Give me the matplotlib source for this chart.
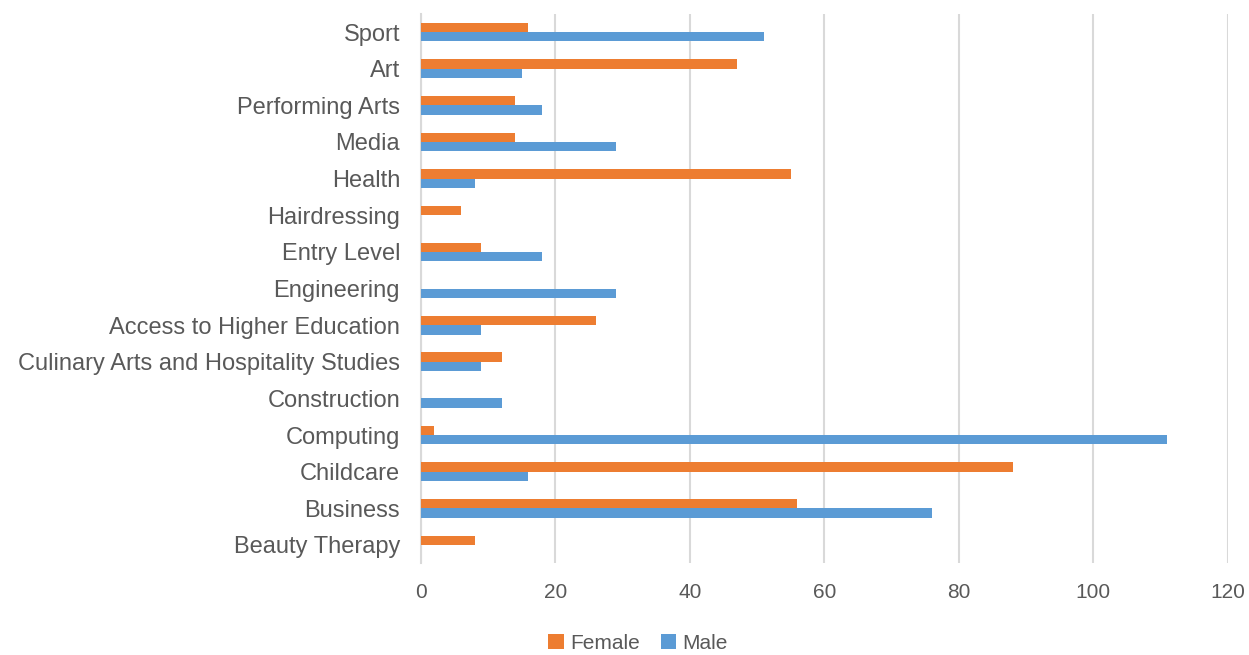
import numpy as np
import matplotlib
matplotlib.use("Agg")
import matplotlib.pyplot as plt

# categories listed bottom to top, as drawn on the chart
categories = [
    "Beauty Therapy", "Business", "Childcare", "Computing", "Construction",
    "Culinary Arts and Hospitality Studies", "Access to Higher Education",
    "Engineering", "Entry Level", "Hairdressing", "Health", "Media",
    "Performing Arts", "Art", "Sport",
]
female = [8, 56, 88, 2, 0, 12, 26, 0, 9, 6, 55, 14, 14, 47, 16]
male = [0, 76, 16, 111, 12, 9, 9, 29, 18, 0, 8, 29, 18, 15, 51]
x_ticks = [0, 20, 40, 60, 80, 100, 120]

orange = "#ED7D31"
blue = "#5B9BD5"
grey_text = "#595959"
grid_col = "#D9D9D9"
narrow = ["Liberation Sans Narrow", "Liberation Sans", "DejaVu Sans"]

fig = plt.figure(figsize=(12.49, 6.55), dpi=100)
ax = fig.add_axes([0.337, 0.140, 0.646, 0.839])

y = np.arange(len(categories))
h = 0.255
ax.barh(y + h / 2, female, height=h, color=orange, label="Female", zorder=3)
ax.barh(y - h / 2, male, height=h, color=blue, label="Male", zorder=3)

ax.set_xlim(0, 120)
ax.set_ylim(-0.5, len(categories) - 0.5)
ax.set_xticks(x_ticks)
ax.set_yticks(y)
ax.set_yticklabels(categories, fontsize=17, color=grey_text,
                   family=["Liberation Sans", "DejaVu Sans"])
ax.set_xticklabels([str(t) for t in x_ticks], fontsize=15, color=grey_text,
                   family=narrow)

ax.xaxis.grid(True, color=grid_col, linewidth=1.5, zorder=0)
ax.tick_params(axis="both", length=0)
ax.tick_params(axis="x", pad=14)
ax.tick_params(axis="y", pad=15)
for side in ["top", "right", "bottom"]:
    ax.spines[side].set_visible(False)
ax.spines["left"].set_color(grid_col)
ax.spines["left"].set_linewidth(1.5)

leg = fig.legend(loc="lower center", bbox_to_anchor=(0.511, -0.025), ncol=2,
                 frameon=False, handlelength=0.75, handleheight=0.75,
                 handletextpad=0.3, columnspacing=1.0,
                 prop={"family": narrow, "size": 15})
for t in leg.get_texts():
    t.set_color(grey_text)

fig.savefig("out.png", dpi=100)
